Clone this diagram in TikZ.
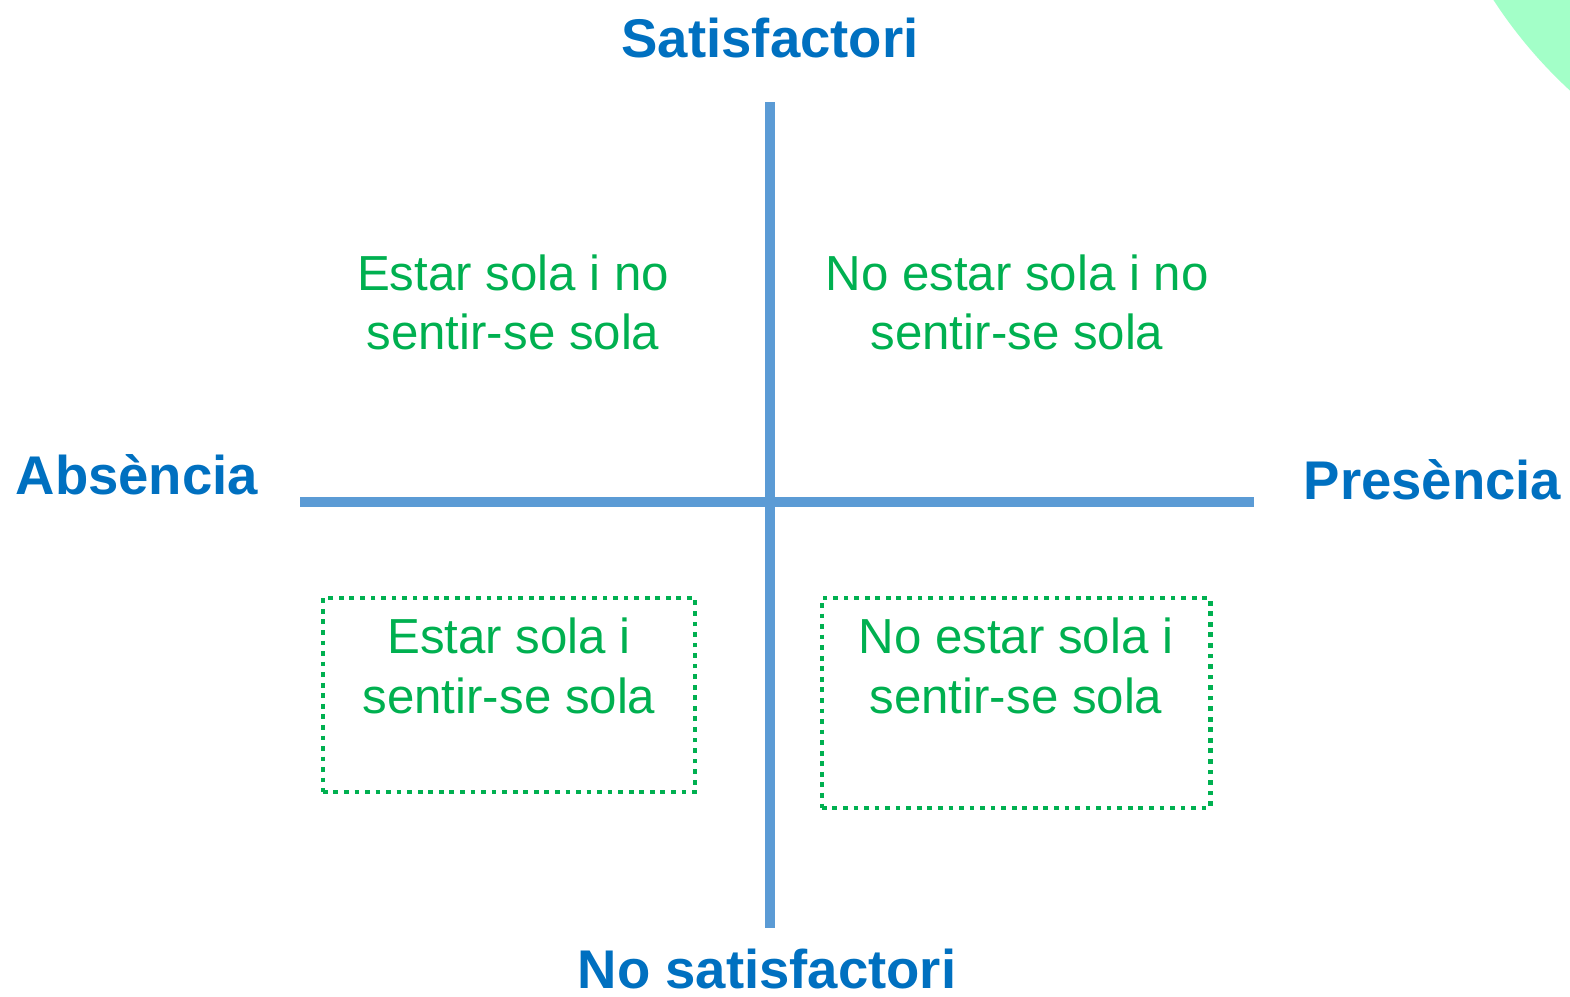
\documentclass[tikz,border=0pt]{standalone}
\usepackage{fontspec}
\setmainfont{Liberation Sans}
\usetikzlibrary{positioning}
\definecolor{axisblue}{HTML}{5B9BD5}
\definecolor{labelblue}{HTML}{0070C0}
\definecolor{quadgreen}{HTML}{00B050}
\definecolor{mint}{HTML}{A3FFC8}

\begin{document}
\begin{tikzpicture}[x=0.01cm, y=-0.01cm,
		axis/.style = {draw=axisblue, line width=2.8pt},
		ends/.style = {font=\bfseries\fontsize{15.5}{18}\selectfont, text=labelblue, inner sep=0pt},
		quad/.style = {align=center, font=\fontsize{14}{16.8}\selectfont, text=quadgreen, inner sep=0pt},
		dotbox/.style = {draw=quadgreen, line width=1.35pt, dash pattern=on 1.35pt off 1.65pt}]
		\useasboundingbox (0,0) rectangle (1570,996);
		%Corner decoration
		\begin{scope}
			\clip (0,0) rectangle (1570,996);
			\fill[mint] (1892,-259) circle (4.75cm);
		\end{scope}
		
		%Axis ends
		\coordinate (top) at (770,102);
		\coordinate (bottom) at (770,928);
		\coordinate (left) at (300,502);
		\coordinate (right) at (1254,502);
		
		%Axis labels
		\node[ends, anchor=base] (sat) at (770,57) {Satisfactori};
		\node[ends, anchor=base] (nosat) at (767,988) {No satisfactori};
		\node[ends, anchor=base west] (abs) at (15,494) {Absència};
		\node[ends, anchor=base east] (pres) at (1562,499) {Presència};
		
		%Upper quadrants
		\node[quad] (ul) at (513,302) {Estar sola i no\\sentir-se sola};
		\node[quad] (ur) at (1017,302) {No estar sola i no\\sentir-se sola};
		
		%Lower quadrants with dotted frames
		\node[dotbox, minimum width=3.72cm, minimum height=1.94cm] (llbox) at (509,695) {};
		\node[quad, below=0.22cm of llbox.north] (ll) {Estar sola i\\sentir-se sola};
		\node[dotbox, minimum width=3.88cm, minimum height=2.10cm] (lrbox) at (1016,703) {};
		\node[quad, below=0.22cm of lrbox.north] (lr) {No estar sola i\\sentir-se sola};
		
		%Axes
		\draw[axis] (left) -- (right); %Absencia - Presencia
		\draw[axis] (top) -- (bottom); %Satisfactori - No satisfactori
	\end{tikzpicture}
\end{document}
